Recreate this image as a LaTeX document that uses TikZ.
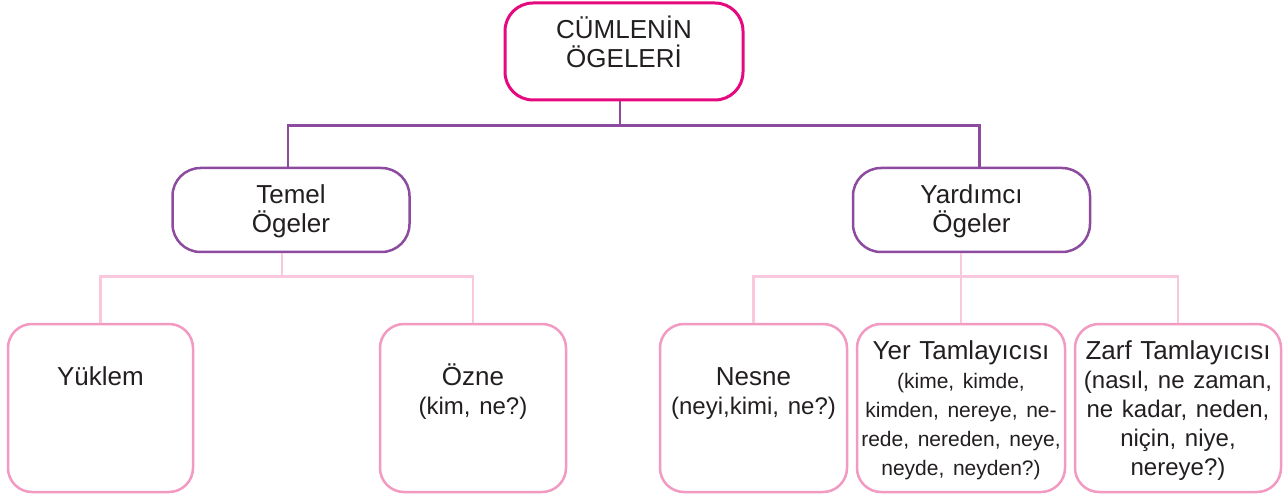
\documentclass[tikz,border=0pt]{standalone}
\usepackage{fontspec}
\setmainfont{Liberation Sans}
\usetikzlibrary{positioning}

\definecolor{anapembe}{HTML}{E5097F}
\definecolor{mor}{HTML}{8C4B9E}
\definecolor{acikpembe}{HTML}{F29AC2}
\definecolor{bagpembe}{HTML}{F9C8DC}
\definecolor{yazi}{HTML}{231F20}

\newcommand{\soru}[1]{{\fontsize{24}{29}\selectfont #1}}
\newcommand{\kucuksoru}[1]{{\fontsize{21}{29}\selectfont #1}}

\tikzset{
  every node/.style={text=yazi, font=\fontsize{26}{29}\selectfont, inner sep=0pt, align=center},
  basbox/.style={draw=anapembe, line width=3pt, rounded corners=28pt, fill=white},
  ogebox/.style={draw=mor, line width=2.5pt, rounded corners=28pt, fill=white,
    text width=237pt, text height=36pt, text depth=48pt},
  yaprak/.style={draw=acikpembe, line width=2.5pt, rounded corners=24pt, fill=white,
    text height=61pt, text depth=107pt},
  yaprak uzun/.style={yaprak, text height=35pt, text depth=133pt},
  morcizgi/.style={draw=mor, line width=2.5pt},
  pembecizgi/.style={draw=bagpembe, line width=2.5pt}
}

\begin{document}
\begin{tikzpicture}[x=1pt, y=-1pt]
  \useasboundingbox (0,0) rectangle (1288,497);

  % boxes
  \node [basbox, text width=238pt, text height=36pt, text depth=61pt] (baslik) at (624,51.5) {CÜMLENİN\\ÖGELERİ};

  \node [ogebox] (temel) at (291,210) {Temel\\Ögeler};
  \node [ogebox] (yardimci) at (971.5,210) {Yardımcı\\Ögeler};

  \node [yaprak, text width=185pt] (yuklem) at (100.5,408) {Yüklem};
  \node [yaprak, text width=186pt] (ozne) at (473,408) {Özne\\\soru{(kim, ne?)}};
  \node [yaprak, text width=187pt] (nesne) at (753.5,408) {Nesne\\\soru{(neyi,kimi, ne?)}};
  \node [yaprak uzun, text width=208pt] (yer) at (961,408)
    {Yer Tamlayıcısı\\\kucuksoru{(kime, kimde,}\\\kucuksoru{kimden, nereye, ne-}\\\kucuksoru{rede, nereden, neye,}\\\kucuksoru{neyde, neyden?)}};
  \node [yaprak uzun, text width=206pt] (zarf) at (1178,408)
    {Zarf Tamlayıcısı\\\soru{(nasıl, ne zaman,}\\\soru{ne kadar, neden,}\\\soru{niçin, niye,}\\\soru{nereye?)}};

  % connectors
  \draw [morcizgi] ([xshift=-4pt]baslik.south) -- ++(0,24) coordinate (ustbag);
  \draw [morcizgi] (ustbag) -| ([xshift=-3pt]temel.north);
  \draw [morcizgi] (ustbag) -| ([xshift=8pt]yardimci.north);

  \draw [pembecizgi] ([xshift=-9pt]temel.south) -- ++(0,23) coordinate (solbag);
  \draw [pembecizgi] (solbag) -| (yuklem.north);
  \draw [pembecizgi] (solbag) -| (ozne.north);

  \coordinate (sagbag) at (yer.north |- solbag);
  \draw [pembecizgi] (yardimci.south -| yer.north) -- (yer.north);
  \draw [pembecizgi] (sagbag) -| (nesne.north);
  \draw [pembecizgi] (sagbag) -| (zarf.north);
\end{tikzpicture}
\end{document}
